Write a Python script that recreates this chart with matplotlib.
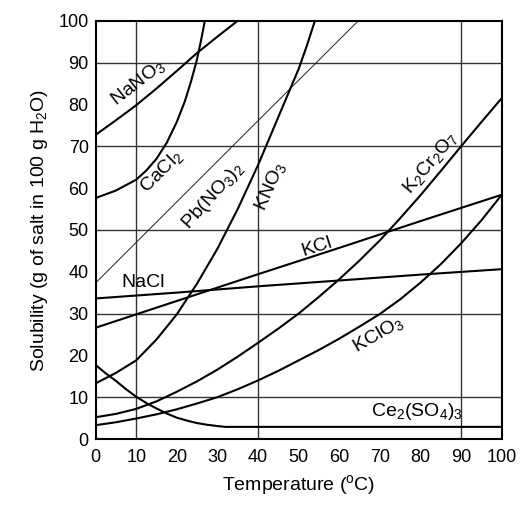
import numpy as np
import matplotlib
matplotlib.use("Agg")
import matplotlib.pyplot as plt

plt.rcParams['font.family'] = ['Liberation Sans', 'DejaVu Sans']
plt.rcParams['mathtext.default'] = 'regular'

# solubility curves (temperature in C, g per 100 g water)
t_nano3 = [0, 5, 10, 15, 20, 25, 30, 35]
s_nano3 = [72.7, 76.2, 79.8, 83.8, 88.0, 92.3, 96.2, 100.0]

t_cacl2 = [0, 5, 10, 12.5, 15, 17.5, 20, 22, 23.5, 24.9, 25.9, 26.9]
s_cacl2 = [57.6, 59.4, 62.0, 64.2, 67.0, 70.8, 75.8, 80.8, 85.5, 90.5, 95.0, 100.0]

t_pbno3 = [0, 20, 40, 64.7]
s_pbno3 = [37.3, 56.7, 76.1, 100.0]

t_kno3 = [0, 5, 10, 15, 20, 25, 30, 35, 40, 45, 50, 52, 54]
s_kno3 = [13.3, 15.8, 18.8, 23.8, 29.8, 37.2, 45.5, 55.0, 65.5, 77.0, 88.5, 94.0, 100.0]

t_kcl = [0, 20, 40, 60, 80, 100]
s_kcl = [26.6, 33.0, 39.4, 45.7, 52.1, 58.4]

t_nacl = [0, 20, 40, 60, 80, 100]
s_nacl = [33.6, 35.0, 36.5, 37.9, 39.3, 40.6]

t_k2cr2o7 = [0, 5, 10, 15, 20, 25, 30, 35, 40, 45, 50,
             55, 60, 65, 70, 75, 80, 85, 90, 95, 100]
s_k2cr2o7 = [5.2, 6.0, 7.2, 9.0, 11.3, 13.8, 16.6, 19.7, 23.0, 26.4, 30.0,
             34.0, 38.2, 42.7, 47.5, 52.8, 58.3, 64.1, 70.0, 75.8, 81.5]

t_kclo3 = [0, 5, 10, 15, 20, 25, 30, 35, 40, 45, 50,
           55, 60, 65, 70, 75, 80, 85, 90, 95, 100]
s_kclo3 = [3.3, 4.0, 4.9, 5.9, 7.1, 8.5, 10.0, 11.9, 14.0, 16.3, 18.8,
           21.3, 24.0, 26.9, 29.9, 33.4, 37.4, 41.8, 46.8, 52.3, 58.4]

t_ce2so43 = [0, 2.5, 5, 7.5, 10, 12.5, 15, 17.5, 20, 22.5, 25, 27.5, 30, 32, 100]
s_ce2so43 = [17.7, 15.7, 13.9, 11.9, 10.1, 8.6, 7.3, 6.1, 5.1, 4.4, 3.8, 3.4, 3.1, 2.9, 2.9]

x_ticks = list(range(0, 101, 10))
y_ticks = list(range(0, 101, 10))
x_grid = [10, 40, 90]
y_grid = [10, 30, 50, 70, 90]

fig = plt.figure(figsize=(5.31, 5.18), dpi=100)
ax = fig.add_axes([0.180, 0.1525, 0.765, 0.8075])

for g in x_grid:
    ax.axvline(g, color='#333333', lw=1.0, zorder=1)
for g in y_grid:
    ax.axhline(g, color='#333333', lw=1.0, zorder=1)

lw = 1.5
ax.plot(t_nano3, s_nano3, color='black', lw=lw)
ax.plot(t_cacl2, s_cacl2, color='black', lw=lw)
ax.plot(t_pbno3, s_pbno3, color='#222222', lw=0.7)
ax.plot(t_kno3, s_kno3, color='black', lw=lw)
ax.plot(t_kcl, s_kcl, color='black', lw=lw)
ax.plot(t_nacl, s_nacl, color='black', lw=lw)
ax.plot(t_k2cr2o7, s_k2cr2o7, color='black', lw=lw)
ax.plot(t_kclo3, s_kclo3, color='black', lw=lw)
ax.plot(t_ce2so43, s_ce2so43, color='black', lw=lw)

fs = 14
ax.text(10.4, 85.2, 'NaNO$_3$', rotation=38, fontsize=fs, ha='center', va='center')
ax.text(16.3, 64.0, 'CaCl$_2$', rotation=45, fontsize=fs, ha='center', va='center')
ax.text(29, 58, 'Pb(NO$_3$)$_2$', rotation=48, fontsize=fs, ha='center', va='center')
ax.text(43, 60.3, 'KNO$_3$', rotation=66, fontsize=fs, ha='center', va='center')
ax.text(82.3, 66, 'K$_2$Cr$_2$O$_7$', rotation=50, fontsize=fs, ha='center', va='center')
ax.text(54.4, 46, 'KCl', rotation=18, fontsize=fs, ha='center', va='center')
ax.text(11.7, 37.3, 'NaCl', fontsize=fs, ha='center', va='center')
ax.text(69.5, 24.9, 'KClO$_3$', rotation=30, fontsize=fs, ha='center', va='center')
ax.text(79, 6.5, 'Ce$_2$(SO$_4$)$_3$', fontsize=fs, ha='center', va='center')

ax.set_xlim(0, 100)
ax.set_ylim(0, 100)
ax.set_xticks(x_ticks)
ax.set_yticks(y_ticks)
ax.tick_params(axis='x', length=0, pad=7, labelsize=13)
ax.tick_params(axis='y', length=0, pad=5, labelsize=13)
for sp in ax.spines.values():
    sp.set_linewidth(1.5)

ax.set_xlabel('Temperature ($^{o}$C)', fontsize=14, labelpad=5)
ax.set_ylabel('Solubility (g of salt in 100 g H$_2$O)', fontsize=14, labelpad=6)

fig.savefig('out.png', dpi=100)
